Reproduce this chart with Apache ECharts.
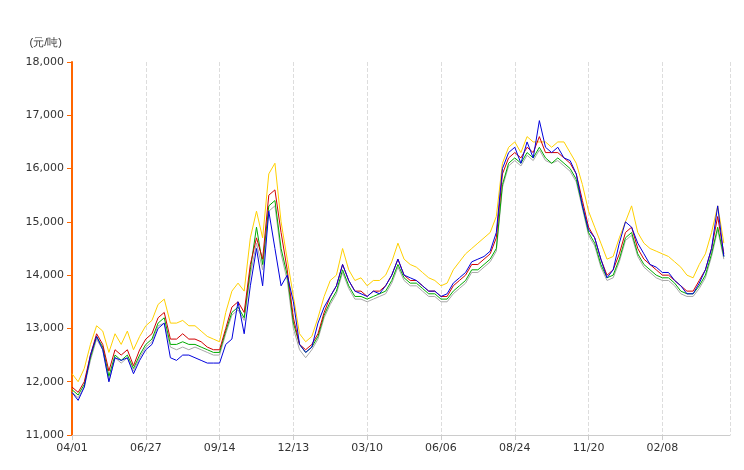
<!DOCTYPE html>
<html><head><meta charset="utf-8">
<script src="https://cdn.jsdelivr.net/npm/echarts@6/dist/echarts.min.js"></script>
<style>html,body{margin:0;padding:0;background:#fff}#c{width:744px;height:470px}</style>
</head><body><div id="c"></div>
<script>
var tickLabels = ['04/01','06/27','09/14','12/13','03/10','06/06','08/24','11/20','02/08'];
var red = [11900,11800,12000,12500,12900,12700,12200,12600,12500,12600,12300,12600,12800,12900,13200,13300,12800,12800,12900,12800,12800,12750,12650,12600,12600,13000,13400,13500,13300,14200,14700,14300,15500,15600,14800,14100,13200,12700,12600,12700,12900,13300,13600,13800,14200,13900,13700,13700,13600,13700,13700,13800,14000,14300,14000,13900,13900,13800,13700,13700,13600,13600,13800,13900,14000,14200,14200,14300,14400,14700,15900,16200,16300,16200,16400,16300,16600,16300,16300,16300,16200,16100,15900,15400,14900,14700,14300,14000,14100,14400,14800,14900,14500,14300,14200,14100,14000,14000,13900,13800,13700,13700,13900,14100,14500,15100,14400];
var yellow = [12150,12000,12250,12700,13050,12950,12550,12900,12700,12950,12600,12850,13050,13150,13450,13550,13100,13100,13150,13050,13050,12950,12850,12800,12750,13300,13700,13850,13700,14700,15200,14700,15900,16100,15000,14300,13600,12900,12750,12850,13200,13600,13900,14000,14500,14100,13900,13950,13800,13900,13900,14000,14250,14600,14300,14200,14150,14050,13950,13900,13800,13850,14100,14250,14400,14500,14600,14700,14800,15100,16100,16400,16500,16300,16600,16500,16500,16500,16400,16500,16500,16300,16100,15700,15200,14900,14600,14300,14350,14700,15000,15300,14800,14600,14500,14450,14400,14350,14250,14150,14000,13950,14200,14400,14800,15300,14600];
var green = [11850,11750,11950,12450,12850,12650,12100,12500,12400,12500,12250,12500,12700,12800,13100,13200,12700,12700,12750,12700,12700,12650,12600,12550,12550,12950,13300,13400,13200,14100,14900,14200,15300,15400,14500,14000,13100,12700,12550,12650,12850,13250,13500,13700,14100,13800,13600,13600,13550,13600,13650,13700,13900,14200,13950,13850,13850,13750,13650,13650,13550,13550,13700,13800,13900,14100,14100,14200,14300,14500,15700,16100,16200,16100,16300,16200,16400,16200,16100,16200,16100,16000,15800,15300,14800,14600,14200,13950,14000,14300,14700,14800,14400,14200,14100,14000,13950,13950,13850,13700,13650,13650,13800,14000,14400,14900,14350];
var gray = [11800,11700,11900,12400,12800,12600,12000,12450,12350,12450,12200,12450,12650,12750,13050,13100,12650,12600,12650,12600,12650,12600,12550,12500,12500,12900,13250,13350,13150,14000,14600,14100,15200,15300,14400,13900,13000,12600,12450,12600,12800,13200,13450,13650,14050,13750,13550,13550,13500,13550,13600,13650,13850,14150,13900,13800,13800,13700,13600,13600,13500,13500,13650,13750,13850,14050,14050,14150,14250,14450,15650,16050,16150,16050,16250,16150,16350,16150,16100,16150,16050,15950,15750,15250,14750,14550,14150,13900,13950,14250,14650,14750,14350,14150,14050,13950,13900,13900,13800,13650,13600,13600,13750,13950,14350,14850,14300];
var blue = [11800,11650,11900,12500,12850,12600,12000,12450,12400,12450,12150,12400,12600,12700,13000,13100,12450,12400,12500,12500,12450,12400,12350,12350,12350,12700,12800,13500,12900,13800,14500,13800,15200,14500,13800,14000,13500,12700,12550,12650,13100,13400,13600,13800,14200,13900,13700,13650,13600,13700,13650,13800,14000,14300,14000,13950,13900,13800,13700,13700,13600,13650,13850,13950,14050,14250,14300,14350,14450,14800,16000,16300,16400,16100,16500,16200,16900,16400,16300,16400,16200,16150,15900,15300,14850,14700,14300,13950,14100,14600,15000,14900,14600,14400,14200,14150,14050,14050,13900,13800,13650,13650,13850,14100,14500,15300,14350];
function toPts(a){return a.map(function(v,i){return [i,v];});}
var chart = echarts.init(document.getElementById('c'));
function s(name,data,color){return {name:name,type:'line',data:toPts(data),showSymbol:false,symbol:'none',lineStyle:{width:1,color:color},itemStyle:{color:color}};}
chart.setOption({
  animation:false,
  grid:{left:72,right:14,top:62,bottom:35},
  xAxis:{type:'value',min:0,max:107,interval:12,
    axisLine:{lineStyle:{color:'#ccc'}},axisTick:{show:true,lineStyle:{color:'#ccc'}},
    axisLabel:{color:'#333',fontSize:11,fontFamily:'Verdana, DejaVu Sans',formatter:function(v){var k=Math.round(v/12);return tickLabels[k]||'';},showMaxLabel:false},
    splitLine:{show:true,lineStyle:{type:'dashed',color:'#ddd'}}},
  yAxis:{type:'value',min:11000,max:18000,interval:1000,name:'(元/吨)',nameLocation:'end',nameGap:14,
    nameTextStyle:{color:'#333',fontSize:11,align:'right',padding:[0,10,0,0]},
    axisLine:{show:true,lineStyle:{color:'#FF6600',width:2}},axisTick:{show:true,lineStyle:{color:'#FF6600'}},
    axisLabel:{color:'#333',fontSize:11,fontFamily:'Verdana, DejaVu Sans',formatter:function(v){return v.toLocaleString('en-US');}},
    splitLine:{show:false}},
  series:[s('gray',gray,'#A8A8A8'),s('green',green,'#00AA00'),s('yellow',yellow,'#FFD000'),s('red',red,'#D00000'),s('blue',blue,'#0000DD')]
});
</script></body></html>
